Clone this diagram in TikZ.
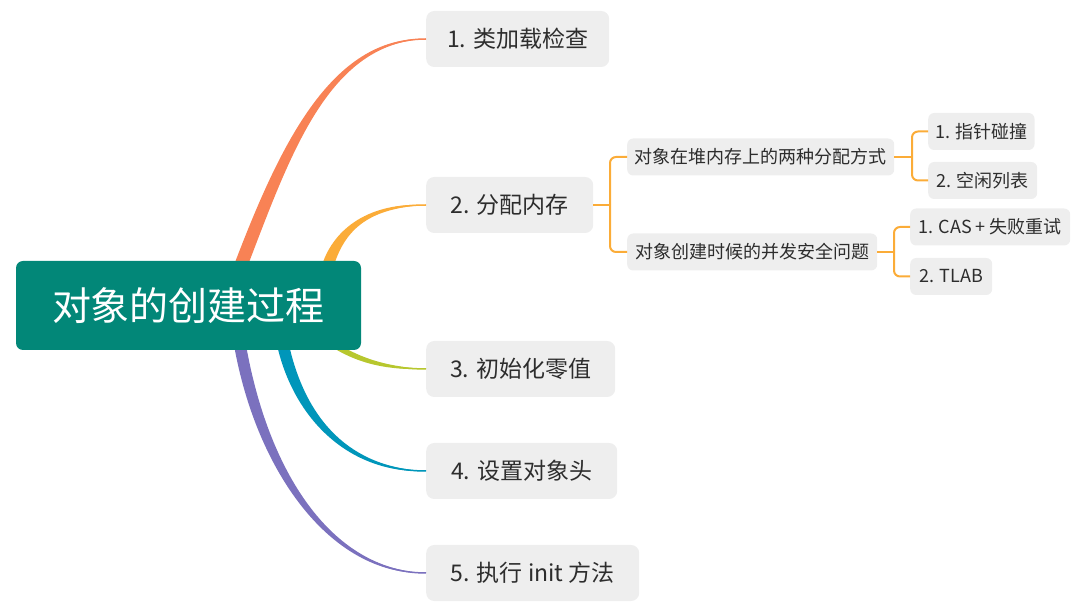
\documentclass[tikz,border=0pt]{standalone}
\usepackage{fontspec}
\setmainfont{Noto Sans CJK SC}
\definecolor{rootteal}{RGB}{2,135,120}
\definecolor{boxgray}{RGB}{238,238,238}
\definecolor{textdark}{RGB}{45,45,45}
\definecolor{coral}{RGB}{248,130,85}
\definecolor{amber}{RGB}{251,172,56}
\definecolor{lime}{RGB}{183,199,46}
\definecolor{ocean}{RGB}{0,150,186}
\definecolor{violet}{RGB}{123,113,190}
\begin{document}
\begin{tikzpicture}[x=1pt, y=-1pt,
    root/.style={fill=rootteal, text=white, rounded corners=7pt, minimum width=345pt, minimum height=89pt, font=\fontsize{39}{44}\selectfont},
    topic/.style={fill=boxgray, text=textdark, rounded corners=8pt, anchor=west, minimum height=56pt, inner xsep=21pt, font=\fontsize{23}{28}\selectfont},
    subtopic/.style={fill=boxgray, text=textdark, rounded corners=6pt, anchor=west, minimum height=37pt, inner xsep=7pt, font=\fontsize{18}{22}\selectfont},
    bracket/.style={draw=amber, line width=2pt, rounded corners=6pt}]
  \useasboundingbox (0,0) rectangle (1080,609);
  % main topics
  \node[topic, minimum width=182pt] (load) at (426,39) {1. 类加载检查};
  \node[topic, minimum width=167pt] (alloc) at (426,205) {2. 分配内存};
  \node[topic, minimum width=189pt] (zero) at (426,369) {3. 初始化零值};
  \node[topic, minimum width=191pt] (header) at (426,471) {4. 设置对象头};
  \node[topic, minimum width=213pt] (init) at (426,573) {5. 执行 init 方法};
  % tapered branches, drawn under the root
  \fill[coral] (234,265) .. controls (278,150) and (330,35.5) .. (load.west) .. controls (330,42.5) and (292,150) .. (248,265) -- cycle;
  \draw[coral, line width=1.5pt] (241,265) .. controls (285,150) and (330,39) .. (load.west);
  \fill[amber] (322,265) .. controls (334,228) and (370,202) .. (alloc.west) .. controls (370,208) and (346,228) .. (334,265) -- cycle;
  \draw[amber, line width=1.5pt] (328,265) .. controls (340,228) and (370,205) .. (alloc.west);
  \fill[lime] (320,331) .. controls (350,355) and (380,366.5) .. (zero.west) .. controls (380,370.5) and (350,361) .. (320,339) -- cycle;
  \draw[lime, line width=1.5pt] (320,335) .. controls (350,358) and (380,368.5) .. (zero.west);
  \fill[ocean] (277,345) .. controls (294,420) and (350,474) .. (header.west) .. controls (350,468) and (306,420) .. (289,345) -- cycle;
  \draw[ocean, line width=1.5pt] (283,345) .. controls (300,420) and (350,471) .. (header.west);
  \fill[violet] (234,345) .. controls (256,470) and (330,576) .. (init.west) .. controls (330,570) and (268,470) .. (246,345) -- cycle;
  \draw[violet, line width=1.5pt] (240,345) .. controls (262,470) and (330,573) .. (init.west);
  \node[root] (root) at (188.5,305.5) {对象的创建过程};
  % second level
  \node[subtopic, minimum width=267pt] (ways) at (627,157) {对象在堆内存上的两种分配方式};
  \node[subtopic, minimum width=250pt] (safety) at (627,252) {对象创建时候的并发安全问题};
  \node[subtopic, minimum width=104pt] (bump) at (928,131.5) {1. 指针碰撞};
  \node[subtopic, minimum width=109pt] (freelist) at (928,180.5) {2. 空闲列表};
  \node[subtopic, minimum width=160pt] (cas) at (910,227) {1. CAS + 失败重试};
  \node[subtopic, minimum width=82pt] (tlab) at (910,276.5) {2. TLAB};
  \coordinate (allocfork) at (610,205);
  \coordinate (waysfork) at (912,157);
  \coordinate (safetyfork) at (894,252);
  \draw[bracket] (alloc.east) -- (allocfork);
  \draw[bracket] (ways.west) -| (allocfork);
  \draw[bracket] (safety.west) -| (allocfork);
  \draw[bracket] (ways.east) -- (waysfork);
  \draw[bracket] (bump.west) -| (waysfork);
  \draw[bracket] (freelist.west) -| (waysfork);
  \draw[bracket] (safety.east) -- (safetyfork);
  \draw[bracket] (cas.west) -| (safetyfork);
  \draw[bracket] (tlab.west) -| (safetyfork);
\end{tikzpicture}
\end{document}
